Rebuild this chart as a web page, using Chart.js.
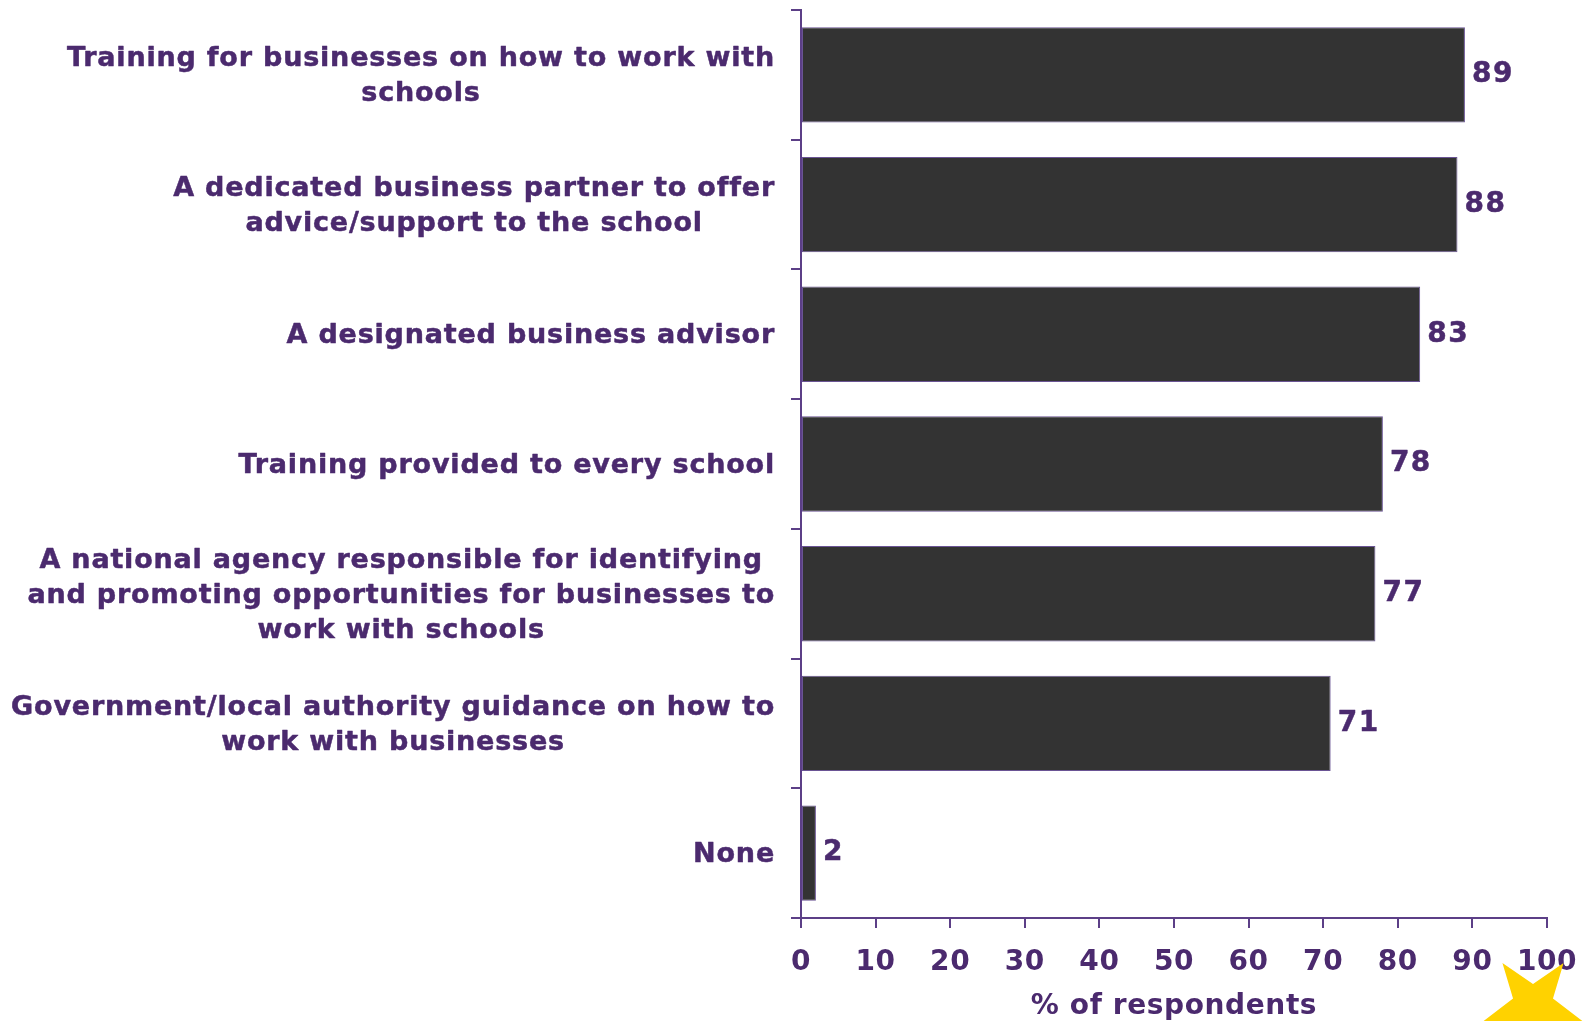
<!DOCTYPE html>
<html>
<head>
<meta charset="utf-8">
<script src="https://cdn.jsdelivr.net/npm/chart.js@4/dist/chart.umd.min.js"></script>
<style>
  html, body { margin: 0; padding: 0; background: #ffffff; }
  #wrap { width: 1585px; height: 1021px; position: relative; }
</style>
</head>
<body>
<div id="wrap"><canvas id="chart"></canvas></div>
<script>
// Support options named by respondents, one entry per bar (top to bottom)
const categories = [
  ['Training for businesses on how to work with', 'schools'],
  ['A dedicated business partner to offer', 'advice/support to the school'],
  ['A designated business advisor'],
  ['Training provided to every school'],
  ['A national agency responsible for identifying', 'and promoting opportunities for businesses to', 'work with schools'],
  ['Government/local authority guidance on how to', 'work with businesses'],
  ['None']
];
// Share of respondents choosing each option (%)
const percentValues = [89, 88, 83, 78, 77, 71, 2];
// Horizontal axis ticks
const xTickValues = [0, 10, 20, 30, 40, 50, 60, 70, 80, 90, 100];
const xAxisTitle = '% of respondents';

const TEXT = '#4b2a6e';
const AXIS = '#5c3f87';
const FONT = '"DejaVu Sans", Verdana, sans-serif';

// Slightly looser tracking for the axis text drawn by the scales
const tracking = {
  id: 'tracking',
  beforeDraw(chart) { chart.ctx.letterSpacing = '0.6px'; }
};

// Draws text with a hairline outline so it reads a touch heavier
function heavyText(ctx, s, x, y) {
  ctx.fillText(s, x, y);
  ctx.strokeText(s, x, y);
}

// Category labels: each block right-aligned beside the axis, lines centred within the block,
// plus the value printed at the end of each bar and the corner star.
const annotate = {
  id: 'annotate',
  afterDraw(chart) {
    const ctx = chart.ctx;
    const ys = chart.scales.y;
    const meta = chart.getDatasetMeta(0);
    ctx.save();
    ctx.fillStyle = TEXT;
    ctx.strokeStyle = TEXT;
    ctx.lineWidth = 0.5;
    ctx.lineJoin = 'round';
    ctx.textBaseline = 'middle';
    ctx.textAlign = 'center';
    ctx.letterSpacing = '0.8px';
    ctx.font = 'bold 27px ' + FONT;
    const rightEdge = ys.right - 26;
    const lineGap = 35;
    categories.forEach((lines, i) => {
      const cy = ys.getPixelForTick(i) + 2;
      const w = Math.max(...lines.map(l => ctx.measureText(l).width));
      const cx = rightEdge - w / 2;
      lines.forEach((l, j) => {
        heavyText(ctx, l, cx, cy + (j - (lines.length - 1) / 2) * lineGap);
      });
    });
    ctx.textAlign = 'left';
    ctx.letterSpacing = '1.5px';
    ctx.font = 'bold 28px ' + FONT;
    meta.data.forEach((bar, i) => {
      heavyText(ctx, String(percentValues[i]), bar.x + 7, bar.y);
    });
    // decorative star in the bottom-right corner
    const cx = 1533, cy = 1005, R = 52, r = 21;
    ctx.beginPath();
    for (let k = 0; k < 10; k++) {
      const rad = (k % 2 === 1) ? R : r;
      const a = k * Math.PI / 5;
      const px = cx + rad * Math.sin(a);
      const py = cy - rad * Math.cos(a);
      if (k === 0) ctx.moveTo(px, py); else ctx.lineTo(px, py);
    }
    ctx.closePath();
    ctx.fillStyle = '#ffd200';
    ctx.fill();
    ctx.restore();
  }
};

new Chart(document.getElementById('chart'), {
  type: 'bar',
  data: {
    labels: categories.map(c => c.join(' ')),
    datasets: [{
      data: percentValues,
      backgroundColor: '#333333',
      borderColor: '#6a5494',
      borderWidth: 1,
      borderSkipped: false,
      barPercentage: 0.735,
      categoryPercentage: 1.0
    }]
  },
  options: {
    indexAxis: 'y',
    responsive: true,
    maintainAspectRatio: false,
    animation: false,
    layout: { padding: { top: 10, right: 38, bottom: 0, left: 0 } },
    plugins: { legend: { display: false }, tooltip: { enabled: false } },
    scales: {
      x: {
        type: 'linear',
        min: 0,
        max: 100,
        afterBuildTicks(scale) { scale.ticks = xTickValues.map(v => ({ value: v })); },
        afterFit(scale) { scale.height = 103; scale.paddingLeft = 0; scale.paddingRight = 0; },
        grid: { drawOnChartArea: false, drawTicks: true, tickLength: 10, color: AXIS, lineWidth: 2 },
        border: { color: AXIS, width: 2 },
        ticks: { color: TEXT, font: { family: FONT, size: 28, weight: 'bold' }, padding: 18, maxRotation: 0 },
        title: {
          display: true,
          text: xAxisTitle,
          color: TEXT,
          font: { family: FONT, size: 28, weight: 'bold', lineHeight: 1 },
          padding: { top: 0, bottom: 0 }
        }
      },
      y: {
        type: 'category',
        afterFit(scale) { scale.width = 801; },
        grid: { offset: true, drawOnChartArea: false, drawTicks: true, tickLength: 10, color: AXIS, lineWidth: 2 },
        border: { color: AXIS, width: 2 },
        ticks: { display: false }
      }
    }
  },
  plugins: [tracking, annotate]
});
</script>
</body>
</html>
